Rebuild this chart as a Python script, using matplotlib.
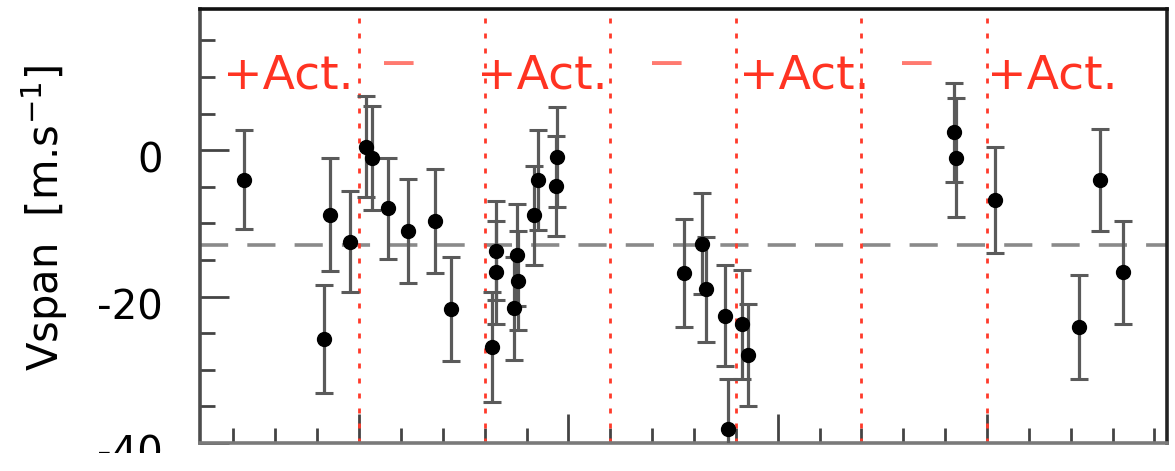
import matplotlib
matplotlib.use("Agg")
import matplotlib.pyplot as plt
import matplotlib.transforms as mtransforms
from matplotlib.ticker import MultipleLocator, FixedLocator

plt.rcParams["font.family"] = ["DejaVu Sans"]
plt.rcParams["axes.unicode_minus"] = False

# observation epochs (days) and bisector span with 1-sigma errors
t_obs = [4226, 4417, 4431, 4478, 4517, 4530, 4569, 4618, 4682, 4719,
         4818, 4826, 4828, 4869, 4877, 4879, 4919, 4928, 4971, 4974,
         5277, 5320, 5328, 5373, 5381, 5414, 5428,
         5920, 5926, 6018, 6220, 6270, 6324]
vspan = [-4.0, -25.8, -8.8, -12.5, 0.5, -1.0, -7.9, -11.0, -9.7, -21.7,
         -26.9, -13.7, -16.7, -21.6, -14.3, -17.8, -8.9, -4.1, -4.9, -0.95,
         -16.8, -12.8, -19.0, -22.6, -38.1, -23.8, -28.0,
         2.45, -1.0, -6.8, -24.2, -4.1, -16.7]
vspan_err = [6.7, 7.4, 7.7, 6.9, 6.9, 7.1, 6.9, 7.1, 7.1, 7.1,
             7.5, 6.8, 7.0, 7.0, 7.0, 6.8, 6.8, 6.8, 6.8, 6.8,
             7.4, 6.9, 7.2, 6.9, 6.9, 7.4, 7.0,
             6.8, 8.1, 7.3, 7.1, 7.0, 7.0]

vspan_mean = -13.0

# activity phase boundaries and labels
phase_edges = [4500, 4800, 5100, 5400, 5700, 6000]
phase_labels = ["+Act.", "\u2212", "+Act.", "\u2212", "+Act.", "\u2212", "+Act."]
phase_label_x = [4330, 4596, 4937, 5236, 5563, 5833, 6156]

fig = plt.figure(figsize=(11.75, 4.71), dpi=100)
ax = fig.add_axes([0.1702, 0.0594, 0.8230, 0.9216])

ax.axhline(vspan_mean, color="#8a8a8a", lw=2.6, dashes=(7.8, 5.3), zorder=1)

for xe in phase_edges:
    ax.axvline(xe, color="#ff3a2a", lw=2.0, ls=(0, (1.8, 3.6)), zorder=2)

ax.errorbar(t_obs, vspan, yerr=vspan_err, fmt="o", color="black", ms=10,
            ecolor="#5a5a5a", elinewidth=2.3, capsize=6.5, capthick=2.2,
            zorder=3)

red = "#ff3322"
for lab, xl in zip(phase_labels, phase_label_x):
    if lab == "+Act.":
        ax.text(xl, 8.4, lab, color=red, fontsize=34, ha="center",
                va="baseline", zorder=4)
    else:
        ax.text(xl, 9.8, lab, color="#ff7a70", fontsize=34, ha="center",
                va="baseline", zorder=4)

ax.set_xlim(4120, 6430)
ax.set_ylim(-40, 19.3)

ax.yaxis.set_major_locator(FixedLocator([-40, -20, 0]))
ax.yaxis.set_minor_locator(MultipleLocator(5))
ax.xaxis.set_major_locator(MultipleLocator(500))
ax.xaxis.set_minor_locator(MultipleLocator(100))
ax.set_xticklabels([])

ax.tick_params(axis="both", which="both", direction="in", colors="#444444",
               top=False, right=False)
ax.tick_params(axis="both", which="major", length=21, width=2.0)
ax.tick_params(axis="both", which="minor", length=11, width=2.0)
ax.tick_params(axis="y", which="major", labelsize=29, pad=27,
               labelcolor="black")

# tick labels sit a little below their ticks; the lowest one runs off the page
shift = mtransforms.ScaledTranslation(0, -7 / 100, fig.dpi_scale_trans)
page = mtransforms.Bbox.from_extents(0, 18, 1175, 471)
for lbl in ax.get_yticklabels():
    lbl.set_transform(lbl.get_transform() + shift)
    lbl.set_clip_box(mtransforms.TransformedBbox(page, mtransforms.IdentityTransform()))
    lbl.set_clip_on(True)

ax.spines["left"].set_color("#4d4d4d")
ax.spines["bottom"].set_color("#7a7a7a")
ax.spines["top"].set_color("#111111")
ax.spines["right"].set_color("#222222")
for s in ax.spines.values():
    s.set_linewidth(2.6)

ax.set_ylabel("Vspan  [m.s$^{-1}$]", fontsize=30)
ax.yaxis.set_label_coords(-0.134, 0.518)

fig.savefig("out.png", dpi=100)
